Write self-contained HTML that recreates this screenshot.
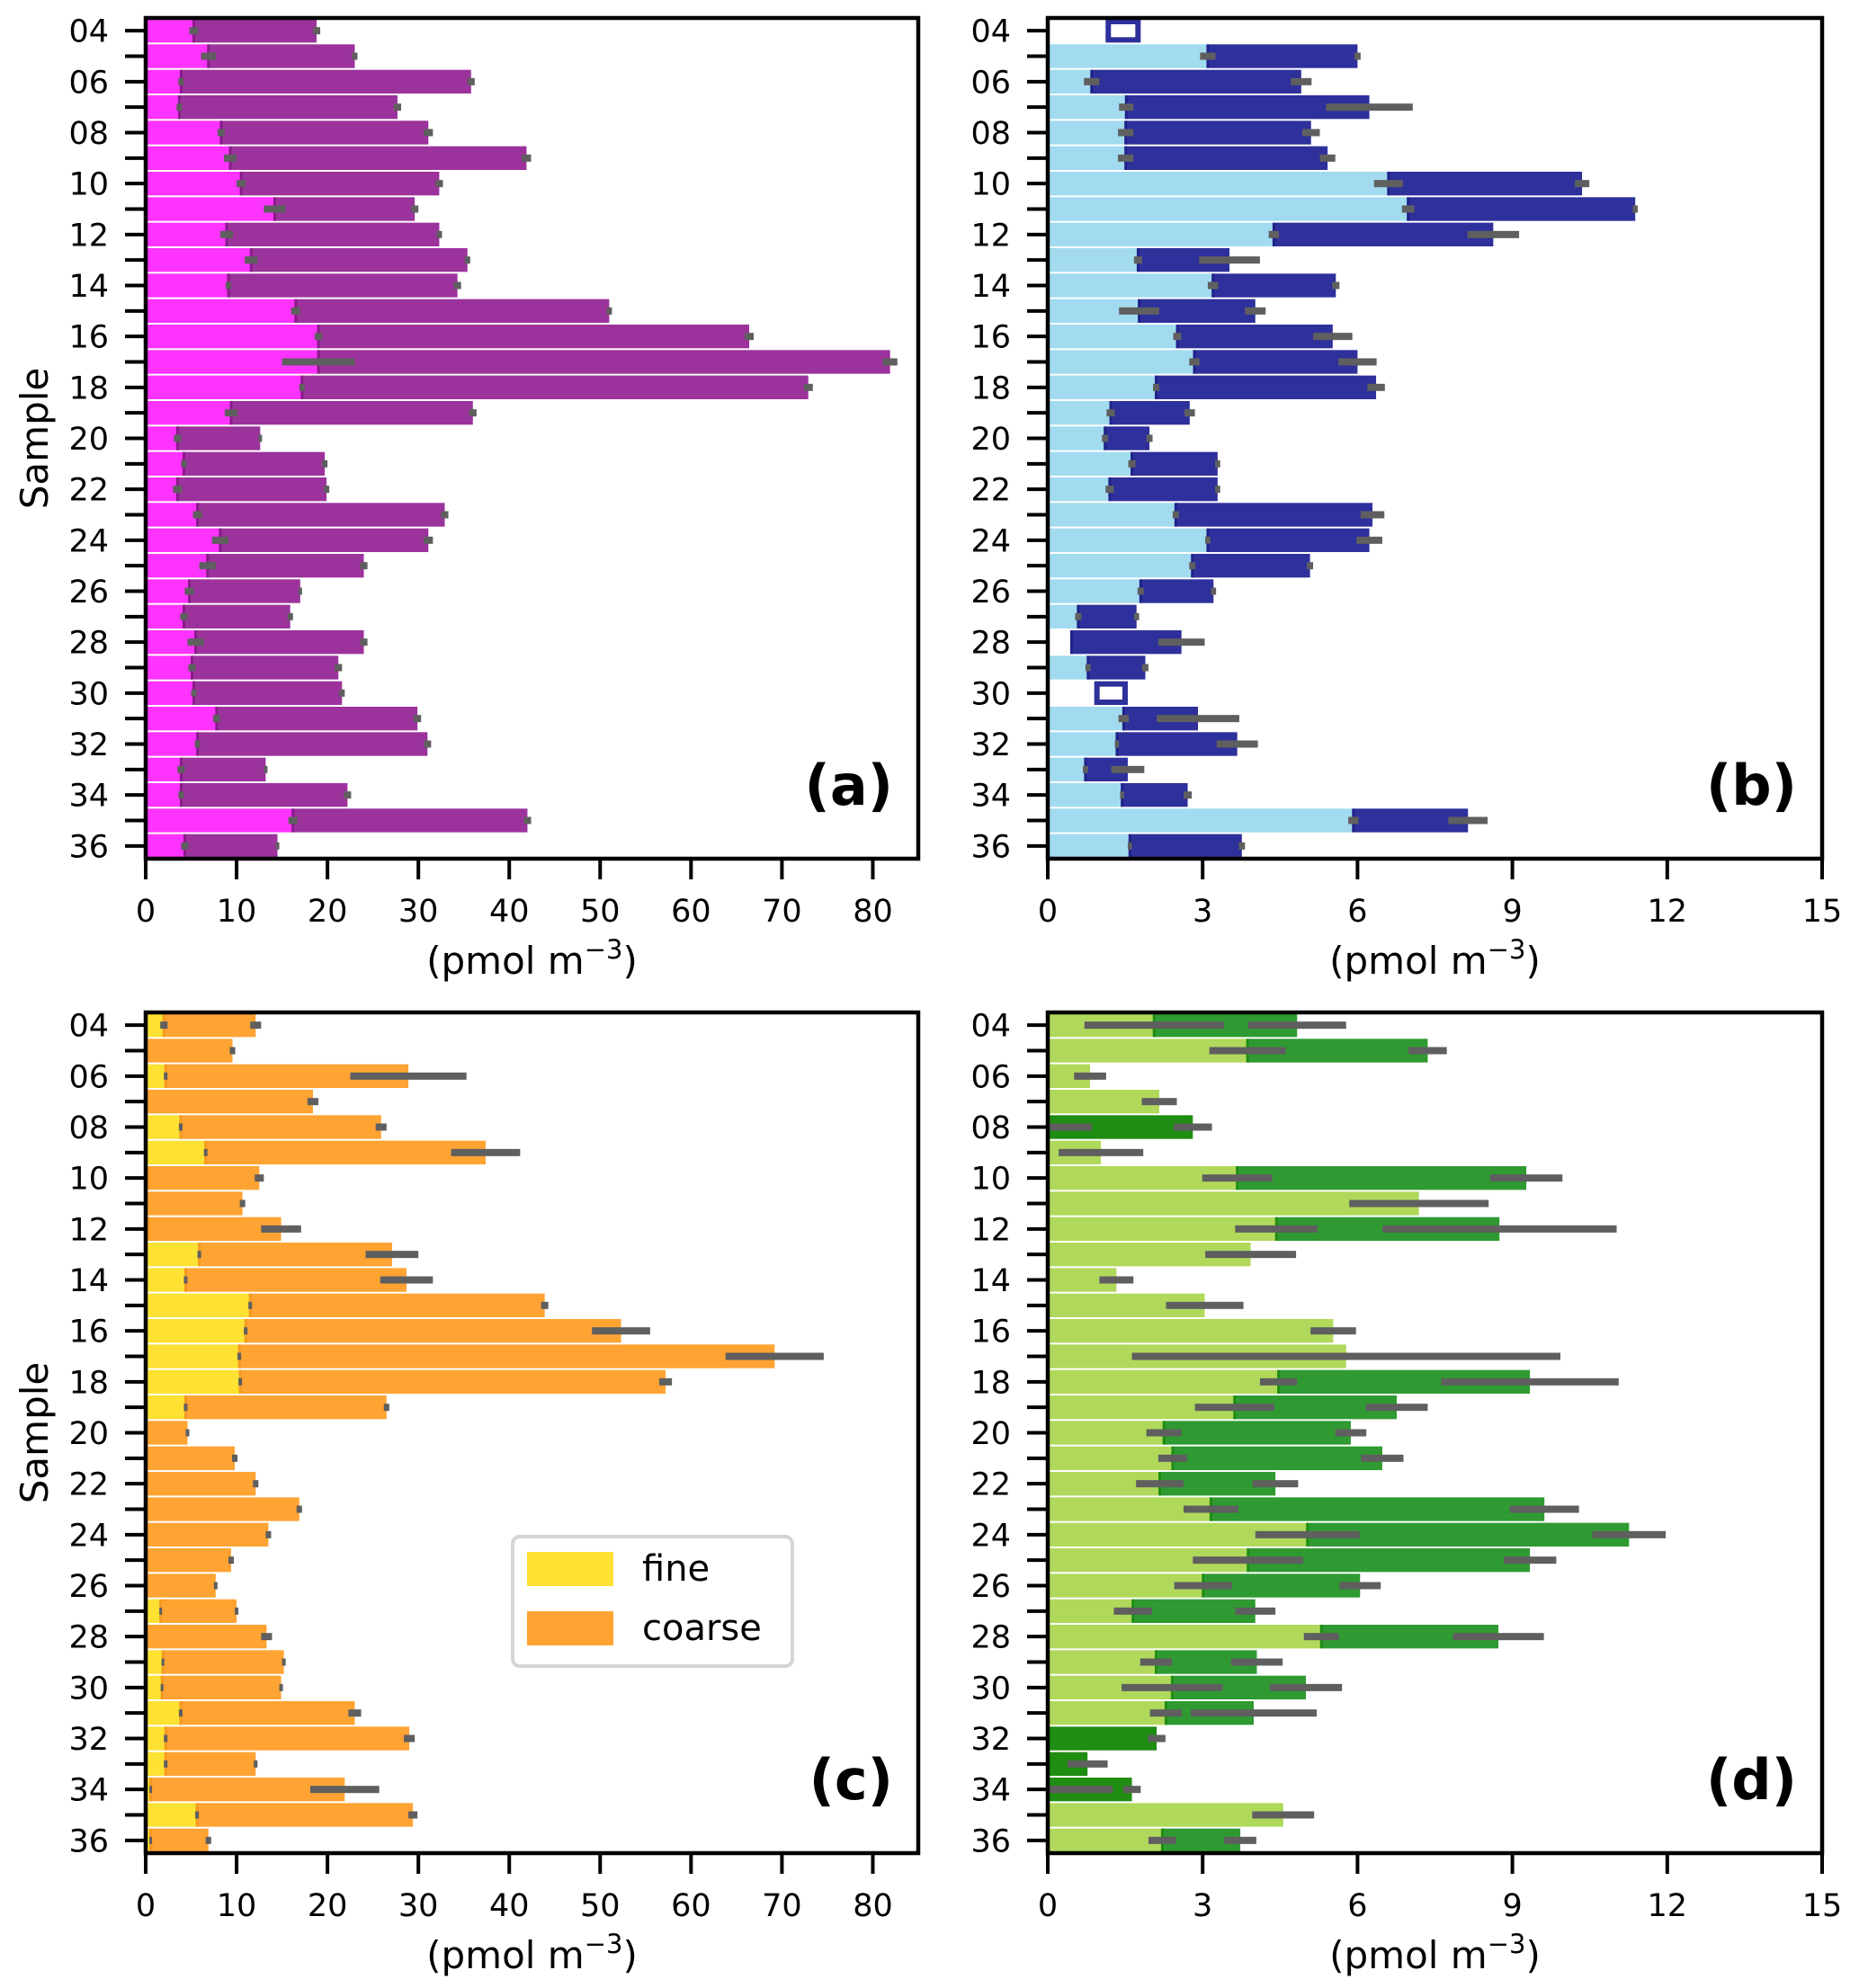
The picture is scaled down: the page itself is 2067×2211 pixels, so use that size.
<!DOCTYPE html>
<html><head><meta charset="utf-8"><style>
html,body{margin:0;padding:0;background:#fff;}
svg{display:block;font-family:"DejaVu Sans","Liberation Sans",sans-serif;}
</style></head><body>
<svg id="fig" width="2067" height="2211" viewBox="0 0 2067 2211" xmlns="http://www.w3.org/2000/svg"></svg>
<script>
const categories = ["04","05","06","07","08","09","10","11","12","13","14","15","16","17","18","19","20","21","22","23","24","25","26","27","28","29","30","31","32","33","34","35","36"];
const xTicksAC = [0,10,20,30,40,50,60,70,80];
const xTicksBD = [0,3,6,9,12,15];
// panel a
const aFine = [5.3,6.9,3.9,3.7,8.3,9.3,10.5,14.2,8.9,11.6,9.1,16.5,19.0,19.0,17.2,9.4,3.5,4.2,3.5,5.7,8.2,6.8,4.8,4.2,5.5,5.1,5.3,7.8,5.7,3.9,3.9,16.2,4.3];
const aTotal = [18.8,23.0,35.8,27.7,31.1,41.9,32.3,29.6,32.3,35.4,34.3,51.0,66.4,81.9,72.9,36.0,12.6,19.7,19.9,32.9,31.1,24.0,17.0,15.9,24.0,21.2,21.6,29.9,31.0,13.2,22.2,42.0,14.5];
const aFineErr = [0.5,0.8,0.3,0.3,0.4,0.7,0.5,1.2,0.7,0.7,0.3,0.5,0.4,4.0,0.3,0.7,0.4,0.3,0.5,0.5,0.9,0.9,0.5,0.4,0.9,0.4,0.3,0.4,0.3,0.4,0.3,0.5,0.4];
const aTotalErr = [0.4,0.3,0.4,0.4,0.5,0.5,0.4,0.4,0.3,0.3,0.4,0.3,0.5,0.8,0.5,0.4,0.2,0.3,0.3,0.4,0.5,0.4,0.2,0.3,0.4,0.4,0.3,0.4,0.4,0.2,0.4,0.4,0.2];
// panel b
const bFine = [1.12,3.1,0.85,1.52,1.51,1.51,6.6,6.98,4.38,1.75,3.2,1.77,2.51,2.84,2.1,1.22,1.11,1.63,1.2,2.48,3.1,2.8,1.8,0.59,0.46,0.78,0.9,1.47,1.34,0.73,1.44,5.92,1.59];
const bTotal = [1.8,6.0,4.91,6.23,5.1,5.42,10.35,11.38,8.63,3.52,5.58,4.02,5.52,6.0,6.36,2.75,1.97,3.29,3.29,6.29,6.23,5.08,3.21,1.72,2.59,1.89,1.55,2.91,3.67,1.55,2.71,8.14,3.76];
const bFineErr = [0,0.15,0.15,0.14,0.15,0.15,0.28,0.12,0.1,0.08,0.1,0.39,0.08,0.1,0.06,0.08,0.06,0.07,0.08,0.06,0.05,0.06,0.06,0.06,0,0.05,0,0.1,0.04,0.05,0.04,0.1,0.04];
const bTotalErr = [0,0.06,0.2,0.84,0.17,0.15,0.14,0.05,0.5,0.59,0.07,0.2,0.38,0.37,0.17,0.1,0.06,0.05,0.05,0.23,0.25,0.06,0.05,0.05,0.45,0.06,0,0.8,0.4,0.32,0.08,0.38,0.06];
const bBelowDetection = [1,0,0,0,0,0,0,0,0,0,0,0,0,0,0,0,0,0,0,0,0,0,0,0,0,0,1,0,0,0,0,0,0];
const bFineBlank = [1,0,0,0,0,0,0,0,0,0,0,0,0,0,0,0,0,0,0,0,0,0,0,0,1,0,1,0,0,0,0,0,0];
// panel c
const cFine = [2.0,0,2.2,0,3.85,6.6,0.3,0,0.3,5.9,4.4,11.5,11.0,10.3,10.4,4.4,0,0,0,0,0,0,0,1.65,0,1.9,1.8,3.85,2.2,2.2,0.55,5.65,0.55];
const cTotal = [12.1,9.55,28.9,18.4,25.9,37.4,12.5,10.65,14.9,27.1,28.7,43.9,52.3,69.2,57.2,26.5,4.6,9.8,12.1,16.9,13.5,9.4,7.7,10.0,13.3,15.2,14.9,23.0,29.0,12.1,21.9,29.4,6.9];
const cFineErr = [0.4,0,0.2,0,0.2,0.2,0,0,0,0.2,0.2,0.2,0.2,0.2,0.2,0.2,0,0,0,0,0,0,0,0.15,0,0.15,0.15,0.2,0.2,0.2,0.15,0.2,0.15];
const cTotalErr = [0.6,0.3,6.4,0.6,0.6,3.8,0.5,0.3,2.2,2.9,2.9,0.4,3.2,5.4,0.7,0.3,0.2,0.3,0.3,0.3,0.3,0.3,0.2,0.2,0.6,0.2,0.2,0.7,0.6,0.2,3.8,0.5,0.3];
// panel d
const dFine = [2.06,3.87,0.82,2.16,0,1.03,3.67,7.19,4.43,3.93,1.33,3.04,5.53,5.78,4.47,3.62,2.25,2.42,2.17,3.16,5.03,3.88,3.01,1.65,5.3,2.1,2.41,2.29,0,0,0,4.56,2.22];
const dTotal = [4.83,7.36,0.82,2.16,2.81,1.03,9.27,7.19,8.75,3.93,1.33,3.04,5.53,5.78,9.34,6.76,5.87,6.48,4.41,9.62,11.26,9.34,6.05,4.02,8.73,4.05,5.0,3.99,2.11,0.77,1.63,4.56,3.73];
const dFineErr = [1.35,0.74,0.31,0.34,0.85,0.82,0.68,1.35,0.8,0.88,0.33,0.75,0.44,4.15,0.36,0.77,0.34,0.28,0.46,0.53,1.01,1.07,0.56,0.37,0.34,0.31,0.98,0.31,0,0,1.26,0.6,0.27];
const dTotalErr = [0.95,0.37,0,0,0.37,0,0.7,0,2.27,0,0,0,0,0,1.72,0.6,0.3,0.41,0.44,0.67,0.71,0.51,0.4,0.39,0.88,0.5,0.7,1.22,0.17,0.39,0.17,0,0.31];

const NS = "http://www.w3.org/2000/svg";
const svg = document.getElementById("fig");
function mk(tag, attrs, parent){ const e=document.createElementNS(NS,tag); for(const k in attrs) e.setAttribute(k,attrs[k]); (parent||svg).appendChild(e); return e; }

function panel(o){
  const g = mk("g",{});
  
  
  const L=o.x0, R=o.x1, T=o.y0, B=o.y1;
  const xs = v => L + (v/o.xmax)*(R-L);
  const band = (B-T)/categories.length;
  const yc = i => T + (i+0.5)*band;
  const bh = band*0.93;
  const clipId = "clip-"+o.name;
  const cp = mk("clipPath",{id:clipId},g); mk("rect",{x:L,y:T,width:R-L,height:B-T},cp);
  const bars = mk("g",{"clip-path":"url(#"+clipId+")"},g);
  categories.forEach((c,i)=>{
    const f=o.fine[i], t=o.total[i];
    const hollow = o.bdl && o.bdl[i];
    const blank = o.blank && o.blank[i];
    if(f>0){
      const r=mk("rect",{x:xs(0),y:yc(i)-bh/2,width:xs(f)-xs(0),height:bh,fill: blank?"#ffffff":o.fineColor},bars);
      
      
    }
    if(t>f+1e-9){
      let r;
      if(hollow){
        r=mk("rect",{x:xs(f)+3,y:yc(i)-bh/2+3,width:xs(t)-xs(f)-6,height:bh-6,fill:"#fff",stroke:o.coarseColor,"stroke-width":6},bars);
      } else {
        const col = (f<=0 && o.darkOnlyColor)? o.darkOnlyColor : o.coarseColor;
        r=mk("rect",{x:xs(f),y:yc(i)-bh/2,width:xs(t)-xs(f),height:bh,fill:col},bars);
        if(f>0) mk("rect",{x:xs(f)-1.5,y:yc(i)-bh/2,width:3,height:bh,fill:o.edgeColor||col},bars);
      }
      
      
    }
    const fe=o.fineErr[i];
    if(fe>0){
      const ctr = f;
      const e=mk("rect",{x:xs(Math.max(0,ctr-fe)),y:yc(i)-4,width:xs(ctr+fe)-xs(Math.max(0,ctr-fe)),height:8,fill:"#5f5f5f"},bars);
      
      
    }
    const te=o.totalErr[i];
    if(te>0 && t>f){
      const e=mk("rect",{x:xs(t-te),y:yc(i)-4,width:xs(t+te)-xs(t-te),height:8,fill:"#5f5f5f"},bars);
      
      
    }
  });
  categories.forEach((c,i)=>{
    mk("line",{x1:L-23,x2:L,y1:yc(i),y2:yc(i),stroke:"#000","stroke-width":4},g);
    if(i%2===0){
      const t=mk("text",{x:L-41,y:yc(i)+12.5,"text-anchor":"end","font-size":35,fill:"#000"},g);
      t.textContent=c;
      
      
    }
  });
  o.xticks.forEach(v=>{
    mk("line",{x1:xs(v),x2:xs(v),y1:B,y2:B+23,stroke:"#000","stroke-width":4},g);
    const t=mk("text",{x:xs(v),y:B+70,"text-anchor":"middle","font-size":35,fill:"#000"},g);
    t.textContent=v;
    
    
  });
  const xl=mk("text",{x:(L+R)/2,y:B+128,"text-anchor":"middle","font-size":42,fill:"#000"},g);
  xl.innerHTML='(pmol m<tspan dy="-17" font-size="29">−3</tspan><tspan dy="17">)</tspan>';
  
  
  if(o.ylabel){
    const yl=mk("text",{x:0,y:0,"text-anchor":"middle","font-size":42,fill:"#000",transform:"translate(53,"+((T+B)/2)+") rotate(-90)"},g);
    yl.textContent="Sample";
    
    
  }
  mk("rect",{x:L,y:T,width:R-L,height:B-T,fill:"none",stroke:"#000","stroke-width":4.5},g);
  const pl=mk("text",{x:R-28,y:B-60,"text-anchor":"end","font-size":62,"font-weight":"bold",fill:"#000"},g);
  pl.textContent=o.letter;
  
  
  return g;
}

panel({name:"panel-a",x0:162,x1:1021,y0:20,y1:955,xmax:85,xticks:xTicksAC,fine:aFine,total:aTotal,fineErr:aFineErr,totalErr:aTotalErr,fineColor:"#ff33ff",coarseColor:"#9c329c",edgeColor:"#8a1a8a",letter:"(a)",ylabel:true});
panel({name:"panel-b",x0:1165,x1:2026,y0:20,y1:955,xmax:15,xticks:xTicksBD,fine:bFine,total:bTotal,fineErr:bFineErr,totalErr:bTotalErr,fineColor:"#a2dbef",coarseColor:"#2e309b",edgeColor:"#20228a",bdl:bBelowDetection,blank:bFineBlank,letter:"(b)",ylabel:false});
panel({name:"panel-c",x0:162,x1:1021,y0:1126,y1:2061,xmax:85,xticks:xTicksAC,fine:cFine,total:cTotal,fineErr:cFineErr,totalErr:cTotalErr,fineColor:"#fde133",coarseColor:"#ffa333",edgeColor:"#f59a20",letter:"(c)",ylabel:true});
panel({name:"panel-d",x0:1165,x1:2026,y0:1126,y1:2061,xmax:15,xticks:xTicksBD,fine:dFine,total:dTotal,fineErr:dFineErr,totalErr:dTotalErr,fineColor:"#b0d95b",coarseColor:"#2f9a31",darkOnlyColor:"#1f8c12",edgeColor:"#1f8c12",letter:"(d)",ylabel:false});

const lg = mk("g",{});


mk("rect",{x:570,y:1709,width:311,height:144,rx:8,fill:"#fff",stroke:"#d5d5d5","stroke-width":4},lg);
const l1=mk("rect",{x:586,y:1726,width:96,height:38,fill:"#fde133"},lg);


const l2=mk("rect",{x:586,y:1792,width:96,height:38,fill:"#ffa333"},lg);


const t1=mk("text",{x:714,y:1758,"font-size":40,fill:"#000"},lg); t1.textContent="fine";


const t2=mk("text",{x:714,y:1824,"font-size":40,fill:"#000"},lg); t2.textContent="coarse";


</script>
</body></html>
